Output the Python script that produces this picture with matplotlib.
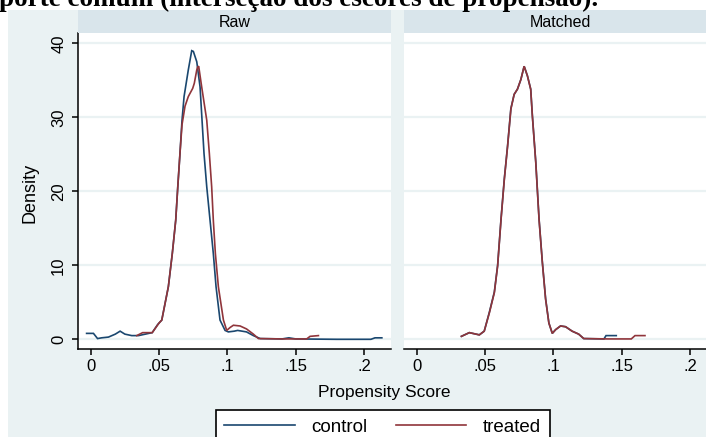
import matplotlib
matplotlib.use("Agg")
import matplotlib.pyplot as plt
from matplotlib.patches import Rectangle

# ---------------- data ----------------
panels = ["Raw", "Matched"]
series = ["control", "treated"]
x_ticks = [0, 0.05, 0.10, 0.15, 0.20]
x_tick_labels = ["0", ".05", ".1", ".15", ".2"]
y_ticks = [0, 10, 20, 30, 40]
y_tick_labels = ["0", "10", "20", "30", "40"]

raw_control_x = [-0.003, 0.002, 0.005, 0.008, 0.013, 0.018, 0.0215, 0.025, 0.030, 0.035,
                 0.040, 0.045, 0.049, 0.052, 0.0568, 0.0597, 0.0622, 0.0637, 0.0653, 0.0668,
                 0.0683, 0.0714, 0.0739, 0.0751, 0.0776, 0.0800, 0.0829, 0.0849, 0.0873, 0.0897,
                 0.0917, 0.0946, 0.0983, 0.1007, 0.1050, 0.1075, 0.1140, 0.1190, 0.1240, 0.1400,
                 0.1450, 0.1500, 0.1800, 0.2050, 0.2080, 0.2130]
raw_control_y = [0.8, 0.8, 0.1, 0.2, 0.3, 0.7, 1.1, 0.7, 0.5, 0.5,
                 0.7, 0.9, 2.0, 2.6, 7.1, 11.6, 16.1, 20.6, 25.1, 29.6,
                 32.8, 36.4, 39.0, 38.9, 37.5, 34.1, 25.1, 20.6, 16.1, 11.6,
                 7.1, 2.6, 1.2, 1.0, 1.1, 1.2, 1.0, 0.5, 0.1, 0.05,
                 0.2, 0.05, 0.0, 0.0, 0.2, 0.2]

raw_treated_x = [0.0337, 0.038, 0.045, 0.050, 0.052, 0.0568, 0.0597, 0.0622, 0.0637, 0.0653,
                 0.0668, 0.0690, 0.0714, 0.0746, 0.0758, 0.0776, 0.0783, 0.0790, 0.0812, 0.0849,
                 0.0868, 0.0885, 0.0897, 0.0912, 0.0934, 0.0971, 0.0995, 0.1020, 0.1044, 0.1093,
                 0.1140, 0.1190, 0.1227, 0.1400, 0.1580, 0.1605, 0.1666]
raw_treated_y = [0.5, 0.9, 0.9, 2.2, 2.6, 7.1, 11.6, 16.1, 20.6, 25.1,
                 29.0, 31.5, 32.8, 33.9, 34.6, 36.4, 36.8, 36.9, 34.1, 29.6,
                 25.1, 20.6, 16.1, 11.6, 7.1, 2.6, 1.2, 1.6, 1.9, 1.8,
                 1.4, 0.7, 0.1, 0.05, 0.05, 0.4, 0.5]

matched_treated_x = [0.0327, 0.0385, 0.0458, 0.0494, 0.0532, 0.0568, 0.0592, 0.0617, 0.0641, 0.0665,
                     0.0689, 0.0713, 0.0737, 0.0762, 0.0786, 0.0810, 0.0834, 0.0846, 0.0871, 0.0895,
                     0.0919, 0.0943, 0.0967, 0.0992, 0.1016, 0.1052, 0.1089, 0.1137, 0.1185, 0.1222,
                     0.1400, 0.1570, 0.1597, 0.1670]
matched_treated_y = [0.4, 0.9, 0.6, 1.1, 3.6, 6.3, 9.9, 16.2, 21.6, 26.1,
                     31.1, 33.1, 33.8, 35.1, 36.9, 35.6, 33.8, 30.2, 23.9, 16.2,
                     10.4, 5.4, 2.2, 0.8, 1.3, 1.8, 1.7, 1.1, 0.7, 0.1,
                     0.05, 0.05, 0.5, 0.5]

matched_control_x = [0.0327, 0.0385, 0.0458, 0.0494, 0.0532, 0.0568, 0.0592, 0.0617, 0.0641, 0.0665,
                     0.0689, 0.0713, 0.0737, 0.0762, 0.0786, 0.0810, 0.0834, 0.0846, 0.0871, 0.0895,
                     0.0919, 0.0943, 0.0967, 0.0992, 0.1016, 0.1052, 0.1089, 0.1137, 0.1185, 0.1222,
                     0.1370, 0.1385, 0.1460]
matched_control_y = [0.4, 0.9, 0.6, 1.1, 3.7, 6.4, 10.0, 16.3, 21.7, 26.2,
                     31.2, 33.1, 33.8, 35.1, 36.9, 35.6, 33.8, 30.3, 24.0, 16.3,
                     10.5, 5.5, 2.2, 0.8, 1.3, 1.8, 1.7, 1.1, 0.7, 0.1,
                     0.05, 0.5, 0.5]

curves = {
    "Raw": {"control": (raw_control_x, raw_control_y), "treated": (raw_treated_x, raw_treated_y)},
    "Matched": {"control": (matched_control_x, matched_control_y),
                "treated": (matched_treated_x, matched_treated_y)},
}

title_text = "porte comum (interseção dos escores de propensão)."
x_label = "Propensity Score"
y_label = "Density"

# ---------------- style ----------------
W, H = 706, 437
BG = "#eaf2f3"
STRIP = "#d9e5eb"
GRID = "#eaf2f3"
COLORS = {"control": "#1a476f", "treated": "#90353b"}
FONT = "Liberation Sans"

plt.rcParams["font.family"] = [FONT, "DejaVu Sans"]

fig = plt.figure(figsize=(W / 100, H / 100), dpi=100)
fig.patch.set_facecolor("white")

def fx(px):
    return px / W

def fy(py):
    return 1 - py / H

# graph region background
fig.patches.append(Rectangle((fx(8), 0), 1, fy(10), transform=fig.transFigure,
                             facecolor=BG, edgecolor="none", zorder=-10))

# title (cut off at top, as in the source)
fig.text(fx(-1), fy(6), title_text, family="Liberation Serif", fontweight="bold",
         fontsize=19.5, va="baseline", ha="left", color="black")

panel_left = {"Raw": 78, "Matched": 404}
pw = 313
top, bottom = 33, 349
xlim = (-0.0093, 0.2197)
ylim = (-1.31, 41.39)

handles = {}
for name in panels:
    L = panel_left[name]
    ax = fig.add_axes([fx(L), fy(bottom), fx(pw), (bottom - top) / H])
    ax.set_facecolor("white")
    ax.set_xlim(*xlim)
    ax.set_ylim(*ylim)
    for yv in y_ticks:
        ax.axhline(yv, color=GRID, lw=1.6, zorder=1)
    for s in series:
        xs, ys = curves[name][s]
        ln, = ax.plot(xs, ys, color=COLORS[s], lw=1.2, zorder=3 if s == "treated" else 2,
                      solid_joinstyle="miter")
        handles[s] = ln
    for sp in ["top", "right"]:
        ax.spines[sp].set_visible(False)
    ax.spines["bottom"].set_linewidth(1.1)
    ax.spines["left"].set_linewidth(1.1)
    ax.set_xticks(x_ticks)
    ax.set_xticklabels(x_tick_labels)
    ax.tick_params(axis="x", direction="out", length=4.5, width=1.1, pad=3,
                   labelsize=12, colors="black")
    if name == "Raw":
        ax.set_yticks(y_ticks)
        ax.set_yticklabels(y_tick_labels, rotation=90, va="center")
        ax.tick_params(axis="y", direction="out", length=4.5, width=1.1, pad=4,
                       labelsize=12, colors="black")
    else:
        ax.spines["left"].set_visible(False)
        ax.set_yticks([])
    # strip
    sax = fig.add_axes([fx(L), fy(33), fx(pw), 23 / H])
    sax.set_facecolor(STRIP)
    sax.set_xticks([])
    sax.set_yticks([])
    for sp in sax.spines.values():
        sp.set_visible(False)
    sax.text(0.5, 0.45, name, ha="center", va="center", fontsize=11.5, transform=sax.transAxes,
             color="black")

fig.text(fx(30), fy(193), y_label, rotation=90, ha="center", va="center", fontsize=13)
fig.text(fx(384), fy(392), x_label, ha="center", va="center", fontsize=12.5)

leg = fig.legend([handles[s] for s in series], series, loc="upper left",
                 bbox_to_anchor=(fx(216), fy(410)), ncol=2, fontsize=13.5,
                 frameon=True, fancybox=False, edgecolor="black", facecolor="white",
                 framealpha=1, handlelength=3.75, handletextpad=0.9, columnspacing=1.5,
                 borderpad=0.45, borderaxespad=0)
leg.get_frame().set_linewidth(1.2)

fig.savefig("out.png", dpi=100, facecolor=fig.get_facecolor())
